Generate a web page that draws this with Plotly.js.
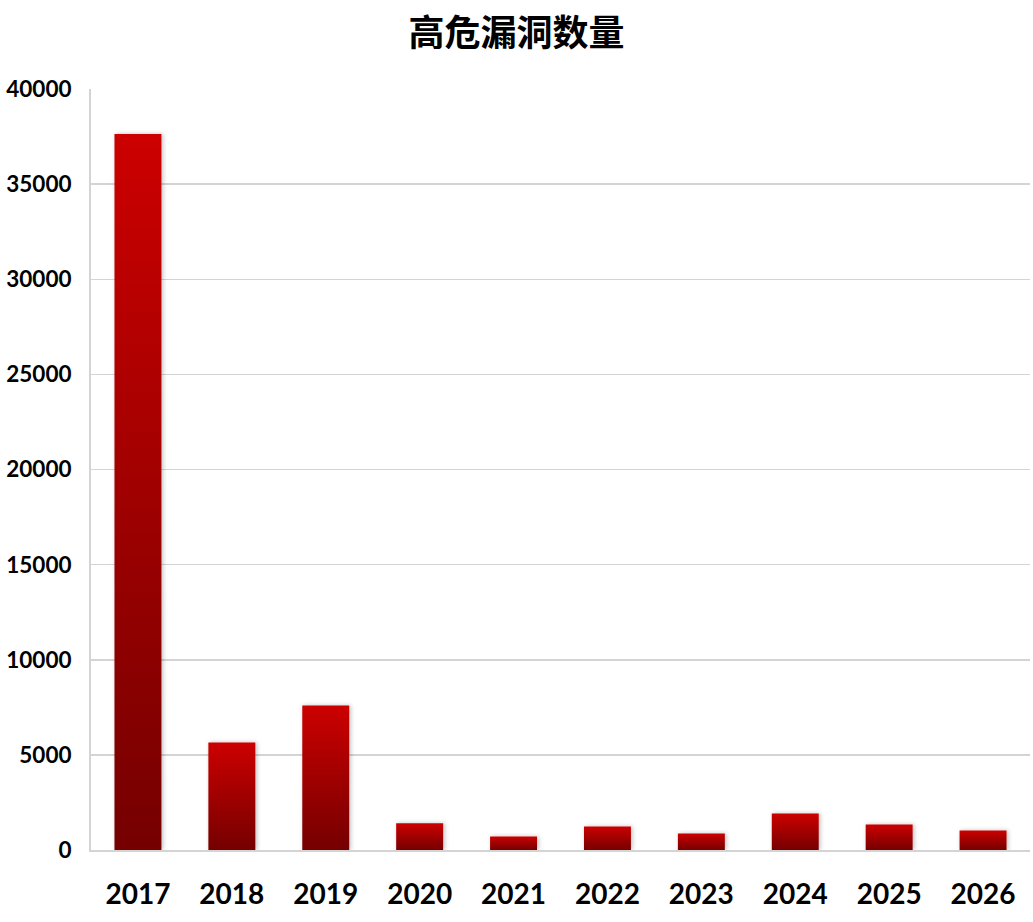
<!DOCTYPE html>
<html>
<head>
<meta charset="utf-8">
<script src="https://cdn.plot.ly/plotly-3.0.1.min.js"></script>
<style>
html,body{margin:0;padding:0;background:#fff;}
#chart{width:1033px;height:922px;}
</style>
</head>
<body>
<div id="chart"></div>
<script>
var years = ['2017','2018','2019','2020','2021','2022','2023','2024','2025','2026'];
var counts = [37630, 5650, 7600, 1400, 710, 1240, 870, 1920, 1340, 1030];
var yTicks = [0, 5000, 10000, 15000, 20000, 25000, 30000, 35000, 40000];
var chartTitle = '高危漏洞数量';

var trace = {
  type: 'bar',
  x: years,
  y: counts,
  marker: {color: '#a00000', line: {width: 0}},
  hoverinfo: 'x+y'
};

var layout = {
  width: 1033,
  height: 922,
  margin: {l: 91, r: 3, t: 89, b: 72},
  paper_bgcolor: '#ffffff',
  plot_bgcolor: '#ffffff',
  bargap: 0.5,
  showlegend: false,
  title: {
    text: chartTitle,
    font: {family: '"Noto Sans CJK SC", sans-serif', size: 36, color: '#000000', weight: 'bold'},
    x: 0.5, xanchor: 'center', y: 0.964, yanchor: 'middle'
  },
  xaxis: {
    type: 'category',
    showgrid: false,
    showline: true,
    linecolor: '#d4d4d4',
    linewidth: 2,
    ticks: '',
    ticklabelstandoff: 18,
    tickfont: {family: 'Lato, sans-serif', size: 28, color: '#000000', weight: 'bold'},
    fixedrange: true
  },
  yaxis: {
    range: [0, 40000],
    tickvals: yTicks,
    ticktext: yTicks.map(String),
    showgrid: true,
    gridcolor: '#d4d4d4',
    gridwidth: 1.5,
    zeroline: false,
    showline: true,
    linecolor: '#d4d4d4',
    linewidth: 2,
    ticks: '',
    ticklabelstandoff: 13,
    tickfont: {family: 'Lato, sans-serif', size: 22.5, color: '#000000', weight: 'bold'},
    fixedrange: true
  }
};

Plotly.newPlot('chart', [trace], layout, {displayModeBar: false, staticPlot: true}).then(function(gd){
  var svg = gd.querySelector('svg.main-svg');
  var ns = 'http://www.w3.org/2000/svg';
  var defs = svg.querySelector('defs') || svg.insertBefore(document.createElementNS(ns,'defs'), svg.firstChild);
  var grad = document.createElementNS(ns, 'linearGradient');
  grad.setAttribute('id', 'barGrad');
  grad.setAttribute('x1','0'); grad.setAttribute('y1','0');
  grad.setAttribute('x2','0'); grad.setAttribute('y2','1');
  var s1 = document.createElementNS(ns,'stop'); s1.setAttribute('offset','0'); s1.setAttribute('stop-color','#cc0000');
  var s2 = document.createElementNS(ns,'stop'); s2.setAttribute('offset','1'); s2.setAttribute('stop-color','#750000');
  grad.appendChild(s1); grad.appendChild(s2);
  defs.appendChild(grad);
  var filt = document.createElementNS(ns, 'filter');
  filt.setAttribute('id','barShadow');
  filt.setAttribute('x','-20%'); filt.setAttribute('y','-20%');
  filt.setAttribute('width','140%'); filt.setAttribute('height','140%');
  var ds = document.createElementNS(ns, 'feDropShadow');
  ds.setAttribute('dx','1.5'); ds.setAttribute('dy','0');
  ds.setAttribute('stdDeviation','2');
  ds.setAttribute('flood-color','#000000'); ds.setAttribute('flood-opacity','0.25');
  filt.appendChild(ds);
  defs.appendChild(filt);
  gd.querySelectorAll('.trace.bars .point path').forEach(function(p){
    p.style.fill = 'url(#barGrad)';
    p.setAttribute('filter','url(#barShadow)');
  });
});
</script>
</body>
</html>
